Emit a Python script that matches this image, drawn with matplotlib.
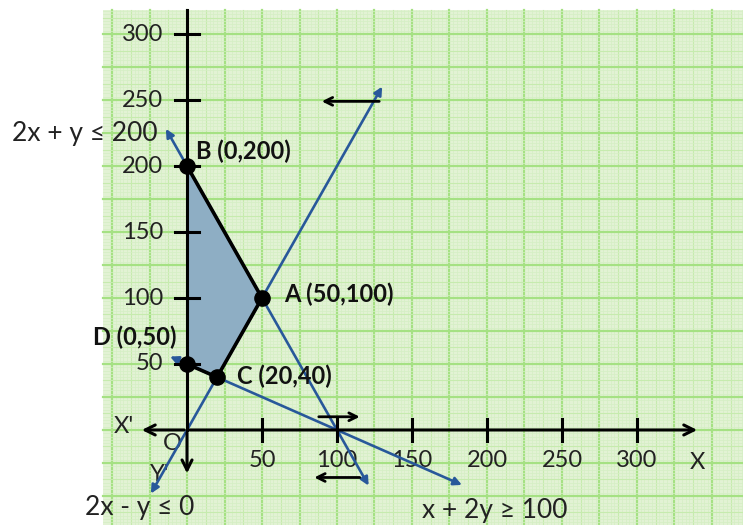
import matplotlib
matplotlib.use('Agg')
import matplotlib.pyplot as plt
from matplotlib.patches import Polygon, Rectangle

plt.rcParams['font.family'] = ['Lato', 'DejaVu Sans']

# vertices of the feasible region
vert_names = ['B (0,200)', 'A (50,100)', 'C (20,40)', 'D (0,50)']
vert_x = [0, 50, 20, 0]
vert_y = [200, 100, 40, 50]

# constraint lines: end points of the drawn segments
line_labels = ['2x + y ≤ 200', '2x - y ≤ 0', 'x + 2y ≥ 100']
line_x0 = [-15, -25, -13]
line_y0 = [230, -50, 56.5]
line_x1 = [122, 131, 185]
line_y1 = [-44, 262, -42.5]

x_ticks = [50, 100, 150, 200, 250, 300]
y_ticks = [50, 100, 150, 200, 250, 300]

# mapping: 1 unit x = 1.5 px, 1 unit y = 1.32 px, origin at px (187, 430)
fig = plt.figure(figsize=(7.43, 5.25), dpi=100)
ax = fig.add_axes([0, 0, 1, 1])
ax.set_xlim(-124.7, 370.7)
ax.set_ylim(-72.0, 325.8)
ax.axis('off')

# graph paper
gx0, gx1, gy0, gy1 = -56, 371, -72, 318
ax.add_patch(Rectangle((gx0, gy0), gx1 - gx0, gy1 - gy0, facecolor='#e2f2d4', edgecolor='none', zorder=0))
k = -20
while k * 2.5 <= gx1:
    v = k * 2.5
    if v >= gx0:
        if k % 10 == 0:
            ax.plot([v, v], [gy0, gy1], color='#a5e183', lw=1.6, zorder=1)
        elif k % 5 == 0:
            ax.plot([v, v], [gy0, gy1], color='#c6ebae', lw=0.8, zorder=1)
        else:
            ax.plot([v, v], [gy0, gy1], color='#d5efc4', lw=0.5, zorder=1)
    k += 1
k = -30
while k * 2.5 <= gy1:
    v = k * 2.5
    if v >= gy0:
        if k % 10 == 0:
            ax.plot([gx0, gx1], [v, v], color='#a5e183', lw=1.6, zorder=1)
        elif k % 5 == 0:
            ax.plot([gx0, gx1], [v, v], color='#c6ebae', lw=0.8, zorder=1)
        else:
            ax.plot([gx0, gx1], [v, v], color='#d5efc4', lw=0.5, zorder=1)
    k += 1

# feasible region
ax.add_patch(Polygon(list(zip(vert_x, vert_y)), closed=True, facecolor='#8eaec4', edgecolor='none', zorder=2))
ax.plot(vert_x, vert_y, color='black', lw=2.6, zorder=5)

# axes
arrow_k = dict(arrowstyle='->', color='black', lw=2.2, mutation_scale=18)
ax.annotate('', xy=(342, 0), xytext=(0, 0), arrowprops=arrow_k, zorder=4)
ax.annotate('', xy=(-32, 0), xytext=(0, 0), arrowprops=arrow_k, zorder=4)
ax.plot([0, 0], [0, gy1], color='black', lw=2.2, zorder=4)
ax.annotate('', xy=(0, -35), xytext=(0, 0), arrowprops=arrow_k, zorder=4)
for t in x_ticks:
    ax.plot([t, t], [-8, 8], color='black', lw=2.2, zorder=4)
    ax.text(t, -15, str(t), ha='center', va='top', fontsize=17, color='#222222')
for t in y_ticks:
    ax.plot([-8, 8], [t, t], color='black', lw=2.2, zorder=4)
    ax.text(-16, t, str(t), ha='right', va='center', fontsize=17, color='#222222')
ax.text(340, -17, 'X', ha='center', va='top', fontsize=17, color='#222222')
ax.text(-42, 3, "X'", ha='center', va='center', fontsize=17, color='#222222')
ax.text(-10, -10, 'O', ha='center', va='center', fontsize=17, color='#222222')
ax.text(-18, -34, "Y'", ha='center', va='center', fontsize=17, color='#222222')

# constraint lines
blue_k = dict(arrowstyle='<|-|>', color='#28589a', lw=1.9, mutation_scale=12)
for i in range(len(line_labels)):
    ax.annotate('', xy=(line_x0[i], line_y0[i]), xytext=(line_x1[i], line_y1[i]), arrowprops=blue_k, zorder=3)

ax.text(-117, 225, line_labels[0], ha='left', va='center', fontsize=19, color='#222222')
ax.text(-68, -59, line_labels[1], ha='left', va='center', fontsize=19, color='#222222')
ax.text(157, -61, line_labels[2], ha='left', va='center', fontsize=19, color='#222222')

# direction arrows
dir_k = dict(arrowstyle='->', color='black', lw=2.0, mutation_scale=14)
ax.annotate('', xy=(88, 249), xytext=(130, 249), arrowprops=dir_k, zorder=4)
ax.annotate('', xy=(117, 10), xytext=(86, 10), arrowprops=dir_k, zorder=4)
ax.annotate('', xy=(83, -36), xytext=(117, -36), arrowprops=dir_k, zorder=4)

# vertices
ax.scatter(vert_x, vert_y, s=120, color='black', zorder=6)
ax.text(6, 211, vert_names[0], ha='left', va='center', fontsize=17, fontweight='bold', color='#111111')
ax.text(65, 103, vert_names[1], ha='left', va='center', fontsize=17, fontweight='bold', color='#111111')
ax.text(33, 41, vert_names[2], ha='left', va='center', fontsize=17, fontweight='bold', color='#111111')
ax.text(-63, 70, vert_names[3], ha='left', va='center', fontsize=17, fontweight='bold', color='#111111')

fig.savefig('out.png', dpi=100)
